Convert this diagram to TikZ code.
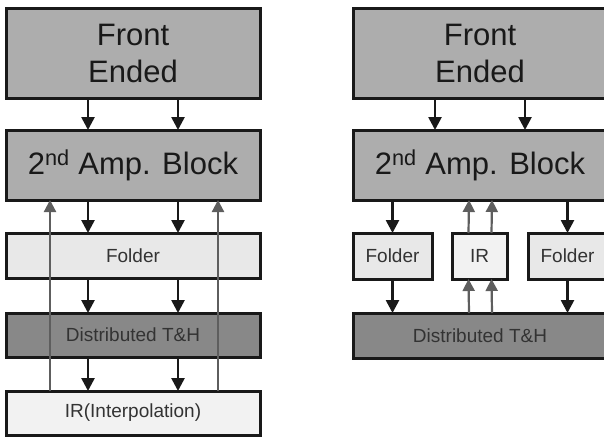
\documentclass[tikz,border=0pt]{standalone}
\usepackage{fontspec}
\setmainfont{Liberation Sans}
\usetikzlibrary{arrows.meta, positioning}

\definecolor{ampgray}{HTML}{ADADAD}
\definecolor{foldgray}{HTML}{E8E8E8}
\definecolor{thgray}{HTML}{888888}
\definecolor{irgray}{HTML}{F2F2F2}
\definecolor{upgray}{HTML}{5E5E5E}

\begin{document}
\begin{tikzpicture}[
    x=1pt, y=-1pt,
    node distance=33pt,
    bigblock/.style={rectangle, draw=black!90, fill=ampgray, line width=3pt, outer sep=0pt, minimum width=254pt, inner sep=2pt, align=center, text=black!90, font=\fontsize{31}{37}\selectfont},
    smallblock/.style={rectangle, draw=black!90, line width=3pt, outer sep=0pt, minimum height=44pt, inner sep=2pt, align=center, text=black!80, font=\fontsize{19}{22}\selectfont},
    arrow/.style={-{Triangle[length=13pt, width=13pt]}, line width=2.6pt, black!90},
    uparrow/.style={-{Triangle[length=12pt, width=12pt]}, line width=2.2pt, upgray}
]
\useasboundingbox (0,0) rectangle (604,437);
\clip (0,0) rectangle (604,437);

% Left chain
\node[bigblock, minimum height=90pt] (fe) at (133,53) {Front\\Ended};
\node[bigblock, minimum height=70pt, below=32pt of fe] (amp) {2\textsuperscript{nd} Amp. Block};
\node[smallblock, fill=foldgray, minimum width=254pt, minimum height=45pt, below=33pt of amp] (folder) {Folder};
\node[smallblock, fill=thgray, minimum width=254pt, below=35pt of folder] (dth) {Distributed T\&H};
\node[smallblock, fill=irgray, minimum width=254pt, below=34pt of dth] (ir) {IR(Interpolation)};

% Right chain
\node[bigblock, minimum height=90pt, right=93pt of fe] (fe2) {Front\\Ended};
\node[bigblock, minimum height=70pt, below=32pt of fe2] (amp2) {2\textsuperscript{nd} Amp. Block};
\node[smallblock, fill=foldgray, minimum width=79pt, minimum height=46pt, below=33pt of amp2.south west, anchor=north west] (folderl) {Folder};
\node[smallblock, fill=irgray, minimum width=55pt, minimum height=46pt, right=20pt of folderl] (ir2) {IR};
\node[smallblock, fill=foldgray, minimum width=79pt, minimum height=46pt, below=33pt of amp2.south east, anchor=north east] (folderr) {Folder};
\node[smallblock, fill=thgray, minimum width=254pt, minimum height=45pt, below=34pt of folderl.south west, anchor=north west] (dth2) {Distributed T\&H};

% Arrows left
\foreach \dx in {-45,45} {
  \draw[arrow] ([xshift=\dx pt]fe.south) -- ([xshift=\dx pt]amp.north);
  \draw[arrow] ([xshift=\dx pt]amp.south) -- ([xshift=\dx pt]folder.north);
  \draw[arrow] ([xshift=\dx pt]folder.south) -- ([xshift=\dx pt]dth.north);
  \draw[arrow] ([xshift=\dx pt]dth.south) -- ([xshift=\dx pt]ir.north);
}
\draw[uparrow] ([xshift=-83pt]ir.north) -- ([xshift=-83pt]amp.south);
\draw[uparrow] ([xshift=85pt]ir.north) -- ([xshift=85pt]amp.south);

% Arrows right
\foreach \dx in {-45,45} {
  \draw[arrow] ([xshift=\dx pt]fe2.south) -- ([xshift=\dx pt]amp2.north);
}
\draw[arrow] (amp2.south -| folderl.north) -- (folderl.north);
\draw[arrow] (amp2.south -| folderr.north) -- (folderr.north);
\draw[arrow] (folderl.south) -- (folderl.south |- dth2.north);
\draw[arrow] (folderr.south) -- (folderr.south |- dth2.north);
\foreach \dx in {-11,12} {
  \draw[uparrow] ([xshift=\dx pt]ir2.north) -- ([xshift=\dx pt]amp2.south);
  \draw[uparrow] ([xshift=\dx pt]dth2.north) -- ([xshift=\dx pt]ir2.south);
}

\end{tikzpicture}
\end{document}
